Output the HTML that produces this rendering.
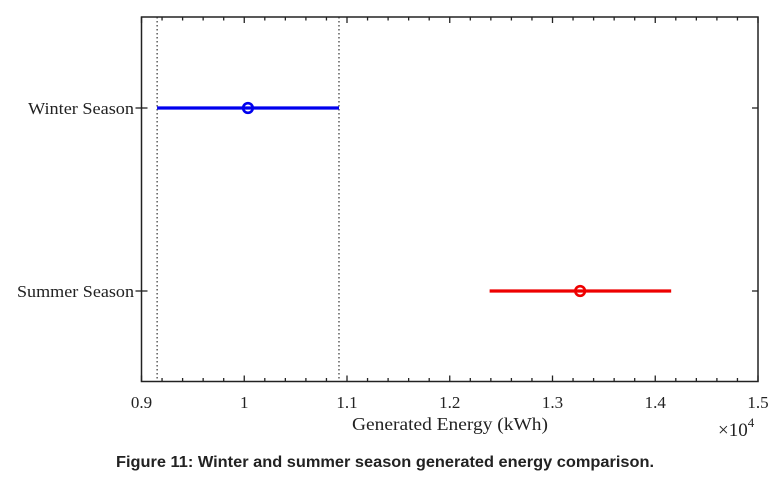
<!DOCTYPE html>
<html><head><meta charset="utf-8"><style>
body{margin:0;background:#fff;width:772px;height:483px;overflow:hidden}
svg text{font-family:"Liberation Serif",serif;fill:#222}
</style></head><body>
<svg width="772" height="483" id="chart">
<text x="385" y="467" text-anchor="middle" style="font-family:'Liberation Sans',sans-serif;font-weight:bold;font-size:16px" textLength="538" lengthAdjust="spacingAndGlyphs">Figure 11: Winter and summer season generated energy comparison.</text>
</svg>
<script>
const categories=["Winter Season","Summer Season"];
const lowValues=[9152,12388];
const highValues=[10922,14155];
const centerValues=[10036,13269];
const colors=["#0000ee","#ee0000"];
const xTicks=[9000,10000,11000,12000,13000,14000,15000];
const xTickLabels=["0.9","1","1.1","1.2","1.3","1.4","1.5"];
const refLines=[9152,10922];
const svg=document.getElementById('chart');
const NS='http://www.w3.org/2000/svg';
const L=141.5,R=758,T=17,B=381.5;
const x=v=>L+(v-9000)/6000*(R-L);
const yPos=[108,291];
const y=i=>yPos[i];
function mk(t,a){const e=document.createElementNS(NS,t);for(const k in a)e.setAttribute(k,a[k]);svg.appendChild(e);return e;}
refLines.forEach(v=>{
const e=mk('line',{x1:x(v),x2:x(v),y1:T,y2:B,stroke:'#333','stroke-width':1.2,'stroke-dasharray':'1.5,2.5'});


});
for(let v=9000;v<=15000;v+=200){
const maj=(v%1000===0);const len=maj?6:3.5;
mk('line',{x1:x(v),x2:x(v),y1:B,y2:B-len,stroke:'#222','stroke-width':1.3});
mk('line',{x1:x(v),x2:x(v),y1:T,y2:T+len,stroke:'#222','stroke-width':1.3});
}
xTicks.forEach((v,i)=>{
const t=mk('text',{x:x(v),y:408,'text-anchor':'middle','font-size':'17px'});t.textContent=xTickLabels[i];


});
categories.forEach((c,i)=>{
mk('line',{x1:R,x2:R-6,y1:y(i),y2:y(i),stroke:'#222','stroke-width':1.3});
mk('line',{x1:L-6,x2:L+6,y1:y(i),y2:y(i),stroke:'#222','stroke-width':1.3});
const t=mk('text',{x:134,y:y(i)+6,'text-anchor':'end','font-size':'17px'});t.textContent=c;
t.setAttribute('textLength',i===0?106:117);
t.setAttribute('lengthAdjust','spacingAndGlyphs');


const ln=mk('line',{x1:x(lowValues[i]),x2:x(highValues[i]),y1:y(i),y2:y(i),stroke:colors[i],'stroke-width':3.2});


const ci=mk('circle',{cx:x(centerValues[i]),cy:y(i),r:4.8,fill:'none',stroke:colors[i],'stroke-width':2.6});


});
const fr=mk('rect',{x:L,y:T,width:R-L,height:B-T,fill:'none',stroke:'#222','stroke-width':1.5});


const xl=mk('text',{x:450,y:430,'text-anchor':'middle','font-size':'18px','textLength':196,'lengthAdjust':'spacingAndGlyphs'});xl.textContent='Generated Energy (kWh)';


const ex=mk('text',{x:718,y:436,'font-size':'19px'});ex.innerHTML='×10<tspan dy="-9" font-size="13px">4</tspan>';


</script>
</body></html>
